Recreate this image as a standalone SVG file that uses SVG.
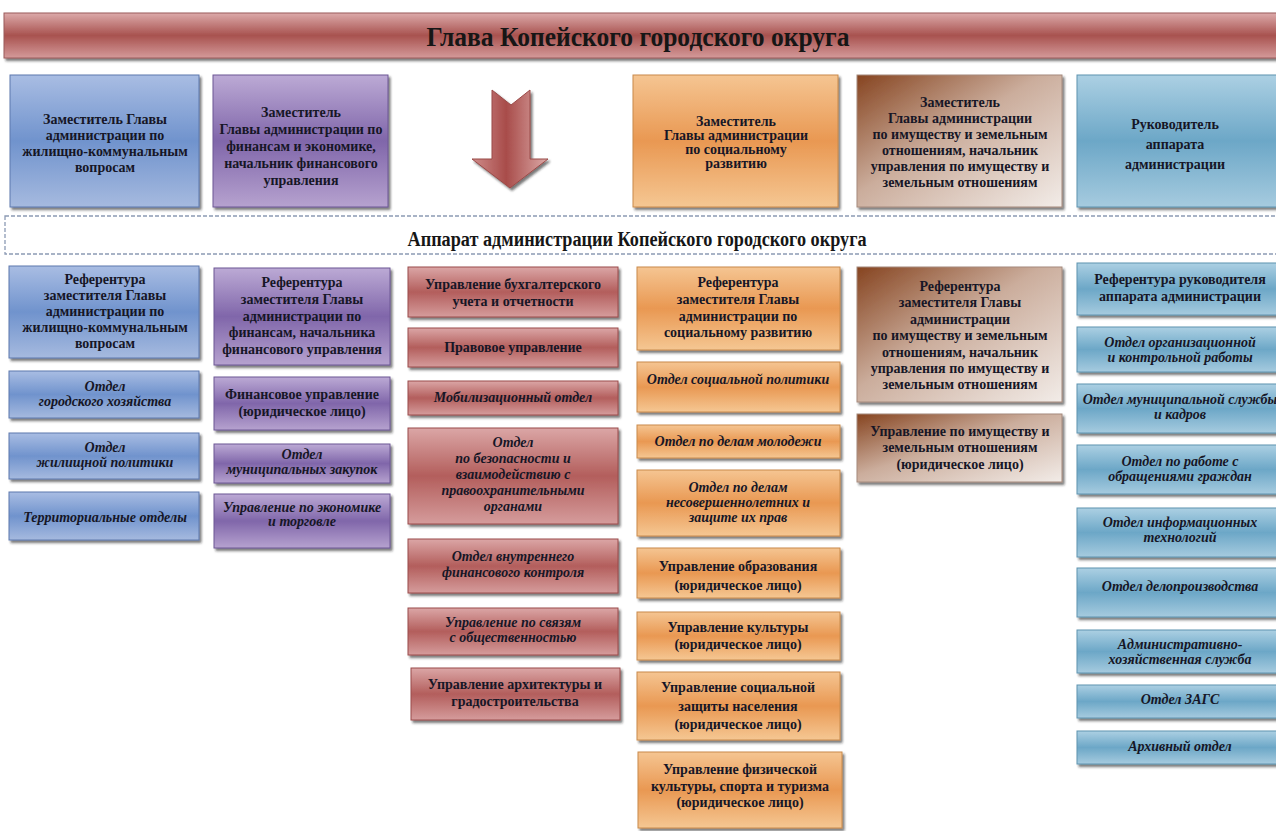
<svg xmlns="http://www.w3.org/2000/svg" width="1276" height="831" viewBox="0 0 1276 831">
  <defs>
    <style>
      .t { font-family: "Liberation Serif", "Times New Roman", serif; font-weight: bold; font-size: 14px; fill: #161626; text-anchor: middle; }
      .i { font-style: italic; }
      .box { filter: url(#shadow); stroke-width: 1; }
      .blue { fill: url(#gBlue); stroke: #5d79ad; }
      .purple { fill: url(#gPurple); stroke: #6d5794; }
      .red { fill: url(#gRed); stroke: #9a4b4a; }
      .orange { fill: url(#gOrange); stroke: #c98a4a; }
      .brown { fill: url(#gBrown); stroke: #a58a7c; }
      .lblue { fill: url(#gLBlue); stroke: #5e93b0; }
      .title { font-family: "Liberation Serif", "Times New Roman", serif; font-weight: bold; fill: #161616; text-anchor: middle; }
    </style>
    <filter id="shadow" x="-5%" y="-5%" width="115%" height="125%">
      <feDropShadow dx="2" dy="2.5" stdDeviation="0.8" flood-color="#1a1a1a" flood-opacity="0.6"/>
    </filter>
    <linearGradient id="gBanner" x1="0" y1="0" x2="0" y2="1">
      <stop offset="0" stop-color="#dcaaaa"/>
      <stop offset="0.5" stop-color="#a8524f"/>
      <stop offset="1" stop-color="#d49a9a"/>
    </linearGradient>
    <linearGradient id="gBlue" x1="0" y1="0" x2="0" y2="1">
      <stop offset="0" stop-color="#a9bde3"/>
      <stop offset="0.5" stop-color="#7093cd"/>
      <stop offset="1" stop-color="#a6badf"/>
    </linearGradient>
    <linearGradient id="gPurple" x1="0" y1="0" x2="0" y2="1">
      <stop offset="0" stop-color="#bcaad5"/>
      <stop offset="0.5" stop-color="#8066aa"/>
      <stop offset="1" stop-color="#b6a2cf"/>
    </linearGradient>
    <linearGradient id="gRed" x1="0" y1="0" x2="0" y2="1">
      <stop offset="0" stop-color="#dba6a6"/>
      <stop offset="0.5" stop-color="#b35e5c"/>
      <stop offset="1" stop-color="#d59c9c"/>
    </linearGradient>
    <linearGradient id="gOrange" x1="0" y1="0" x2="0" y2="1">
      <stop offset="0" stop-color="#f5c592"/>
      <stop offset="0.5" stop-color="#e99852"/>
      <stop offset="1" stop-color="#f5c793"/>
    </linearGradient>
    <linearGradient id="gBrown" x1="0" y1="0" x2="1" y2="1">
      <stop offset="0" stop-color="#864420"/>
      <stop offset="0.45" stop-color="#cbad9c"/>
      <stop offset="1" stop-color="#f2ece8"/>
    </linearGradient>
    <linearGradient id="gLBlue" x1="0" y1="0" x2="0" y2="1">
      <stop offset="0" stop-color="#acd0e3"/>
      <stop offset="0.5" stop-color="#6ca7c7"/>
      <stop offset="1" stop-color="#a6cbdf"/>
    </linearGradient>
    <linearGradient id="gArrow" x1="0" y1="0" x2="1" y2="0">
      <stop offset="0" stop-color="#cf8c8a"/>
      <stop offset="0.45" stop-color="#a84c4a"/>
      <stop offset="1" stop-color="#dcaaa8"/>
    </linearGradient>
  </defs>

  <rect width="1276" height="831" fill="#ffffff"/>

  <!-- Head of the district -->
  <g id="head">
    <rect x="4" y="13" width="1280" height="45" fill="url(#gBanner)" stroke="#9a5a5a" stroke-width="1" filter="url(#shadow)"/>
    <text class="title" x="638" y="46" font-size="27" textLength="423" lengthAdjust="spacingAndGlyphs">Глава Копейского городского округа</text>
  </g>

  <!-- Deputies -->
  <g id="dep-housing">
    <rect class="box blue" x="10" y="75" width="189" height="132"/>
    <text class="t"><tspan x="105" y="124">Заместитель Главы</tspan><tspan x="105" y="140">администрации по</tspan><tspan x="105" y="156">жилищно-коммунальным</tspan><tspan x="105" y="172">вопросам</tspan></text>
  </g>
  <g id="dep-finance">
    <rect class="box purple" x="213" y="75" width="175" height="132"/>
    <text class="t"><tspan x="301" y="117">Заместитель</tspan><tspan x="301" y="134">Главы администрации по</tspan><tspan x="301" y="151">финансам и экономике,</tspan><tspan x="301" y="168">начальник финансового</tspan><tspan x="301" y="185">управления</tspan></text>
  </g>
  <g id="dep-social">
    <rect class="box orange" x="633" y="75" width="205" height="132"/>
    <text class="t"><tspan x="736" y="126">Заместитель</tspan><tspan x="736" y="140">Главы администрации</tspan><tspan x="736" y="154">по социальному</tspan><tspan x="736" y="168">развитию</tspan></text>
  </g>
  <g id="dep-property">
    <rect class="box brown" x="857" y="75" width="205" height="132"/>
    <text class="t"><tspan x="960" y="107">Заместитель</tspan><tspan x="960" y="123">Главы администрации</tspan><tspan x="960" y="139">по имуществу и земельным</tspan><tspan x="960" y="155">отношениям, начальник</tspan><tspan x="960" y="171">управления по имуществу и</tspan><tspan x="960" y="187">земельным отношениям</tspan></text>
  </g>
  <g id="chief-of-staff">
    <rect class="box lblue" x="1077" y="75" width="206" height="132"/>
    <text class="t"><tspan x="1175" y="129">Руководитель</tspan><tspan x="1175" y="149">аппарата</tspan><tspan x="1175" y="169">администрации</tspan></text>
  </g>

  <!-- Connectors -->
  <g id="connectors">
    <path d="M492 90 L511 105 L530 90 L530 159 L548 159 L510 188 L472 159 L492 159 Z" fill="url(#gArrow)" stroke="#9a4a48" stroke-width="1" filter="url(#shadow)"/>
  </g>

  <!-- Administration staff band -->
  <g id="staff">
    <rect x="5" y="216" width="1290" height="38" fill="none" stroke="#8c9ab4" stroke-width="1.3" stroke-dasharray="4 2"/>
    <text class="title" x="637" y="246" font-size="20" textLength="459" lengthAdjust="spacingAndGlyphs">Аппарат администрации Копейского городского округа</text>
  </g>

  <!-- Column 1: housing -->
  <g id="c1-ref">
    <rect class="box blue" x="9" y="266" width="190" height="92"/>
    <text class="t"><tspan x="105" y="284">Референтура</tspan><tspan x="105" y="300">заместителя Главы</tspan><tspan x="105" y="316">администрации по</tspan><tspan x="105" y="332">жилищно-коммунальным</tspan><tspan x="105" y="348">вопросам</tspan></text>
  </g>
  <g id="c1-city">
    <rect class="box blue" x="9" y="371" width="190" height="47"/>
    <text class="t i"><tspan x="105" y="391">Отдел</tspan><tspan x="105" y="406">городского хозяйства</tspan></text>
  </g>
  <g id="c1-housing">
    <rect class="box blue" x="9" y="433" width="190" height="46"/>
    <text class="t i"><tspan x="105" y="452">Отдел</tspan><tspan x="105" y="467">жилищной политики</tspan></text>
  </g>
  <g id="c1-territory">
    <rect class="box blue" x="9" y="492" width="190" height="48"/>
    <text class="t i" x="105" y="522">Территориальные отделы</text>
  </g>

  <!-- Column 2: finance -->
  <g id="c2-ref">
    <rect class="box purple" x="214" y="268" width="176" height="97"/>
    <text class="t"><tspan x="302" y="287">Референтура</tspan><tspan x="302" y="304">заместителя Главы</tspan><tspan x="302" y="321">администрации по</tspan><tspan x="302" y="337">финансам, начальника</tspan><tspan x="302" y="354">финансового управления</tspan></text>
  </g>
  <g id="c2-fin">
    <rect class="box purple" x="214" y="377" width="176" height="53"/>
    <text class="t"><tspan x="302" y="399">Финансовое управление</tspan><tspan x="302" y="416">(юридическое лицо)</tspan></text>
  </g>
  <g id="c2-proc">
    <rect class="box purple" x="214" y="444" width="176" height="39"/>
    <text class="t i"><tspan x="302" y="459">Отдел</tspan><tspan x="302" y="474">муниципальных закупок</tspan></text>
  </g>
  <g id="c2-econ">
    <rect class="box purple" x="214" y="494" width="176" height="54"/>
    <text class="t i"><tspan x="302" y="512">Управление по экономике</tspan><tspan x="302" y="526">и торговле</tspan></text>
  </g>

  <!-- Column 3: staff departments -->
  <g id="c3-acc">
    <rect class="box red" x="408" y="267" width="210" height="50"/>
    <text class="t"><tspan x="513" y="289">Управление бухгалтерского</tspan><tspan x="513" y="306">учета и отчетности</tspan></text>
  </g>
  <g id="c3-legal">
    <rect class="box red" x="408" y="328" width="210" height="39"/>
    <text class="t" x="513" y="352">Правовое управление</text>
  </g>
  <g id="c3-mob">
    <rect class="box red" x="408" y="381" width="210" height="34"/>
    <text class="t i" x="513" y="402">Мобилизационный отдел</text>
  </g>
  <g id="c3-sec">
    <rect class="box red" x="408" y="428" width="210" height="96"/>
    <text class="t i"><tspan x="513" y="447">Отдел</tspan><tspan x="513" y="463">по безопасности и</tspan><tspan x="513" y="479">взаимодействию с</tspan><tspan x="513" y="495">правоохранительными</tspan><tspan x="513" y="511">органами</tspan></text>
  </g>
  <g id="c3-audit">
    <rect class="box red" x="408" y="539" width="210" height="54"/>
    <text class="t i"><tspan x="513" y="561">Отдел внутреннего</tspan><tspan x="513" y="577">финансового контроля</tspan></text>
  </g>
  <g id="c3-pr">
    <rect class="box red" x="408" y="608" width="210" height="47"/>
    <text class="t i"><tspan x="513" y="627">Управление по связям</tspan><tspan x="513" y="642">с общественностью</tspan></text>
  </g>
  <g id="c3-arch">
    <rect class="box red" x="411" y="668" width="209" height="52"/>
    <text class="t"><tspan x="515" y="689">Управление архитектуры и</tspan><tspan x="515" y="706">градостроительства</tspan></text>
  </g>

  <!-- Column 4: social development -->
  <g id="c4-ref">
    <rect class="box orange" x="637" y="267" width="203" height="83"/>
    <text class="t"><tspan x="738" y="287">Референтура</tspan><tspan x="738" y="304">заместителя Главы</tspan><tspan x="738" y="321">администрации по</tspan><tspan x="738" y="337">социальному развитию</tspan></text>
  </g>
  <g id="c4-policy">
    <rect class="box orange" x="637" y="362" width="203" height="50"/>
    <text class="t i" x="738" y="384">Отдел социальной политики</text>
  </g>
  <g id="c4-youth">
    <rect class="box orange" x="637" y="425" width="203" height="33"/>
    <text class="t i" x="738" y="446">Отдел по делам молодежи</text>
  </g>
  <g id="c4-minors">
    <rect class="box orange" x="637" y="470" width="203" height="66"/>
    <text class="t i"><tspan x="738" y="492">Отдел по делам</tspan><tspan x="738" y="507">несовершеннолетних и</tspan><tspan x="738" y="522">защите их прав</tspan></text>
  </g>
  <g id="c4-edu">
    <rect class="box orange" x="637" y="548" width="203" height="50"/>
    <text class="t"><tspan x="738" y="571">Управление образования</tspan><tspan x="738" y="590">(юридическое лицо)</tspan></text>
  </g>
  <g id="c4-culture">
    <rect class="box orange" x="637" y="612" width="203" height="48"/>
    <text class="t"><tspan x="738" y="632">Управление культуры</tspan><tspan x="738" y="649">(юридическое лицо)</tspan></text>
  </g>
  <g id="c4-welfare">
    <rect class="box orange" x="637" y="672" width="203" height="68"/>
    <text class="t"><tspan x="738" y="692">Управление социальной</tspan><tspan x="738" y="711">защиты населения</tspan><tspan x="738" y="729">(юридическое лицо)</tspan></text>
  </g>
  <g id="c4-sport">
    <rect class="box orange" x="638" y="752" width="204" height="76"/>
    <text class="t"><tspan x="740" y="774">Управление физической</tspan><tspan x="740" y="791">культуры, спорта и туризма</tspan><tspan x="740" y="807">(юридическое лицо)</tspan></text>
  </g>

  <!-- Column 5: property -->
  <g id="c5-ref">
    <rect class="box brown" x="857" y="267" width="205" height="135"/>
    <text class="t"><tspan x="960" y="291">Референтура</tspan><tspan x="960" y="307">заместителя Главы</tspan><tspan x="960" y="324">администрации</tspan><tspan x="960" y="340">по имуществу и земельным</tspan><tspan x="960" y="357">отношениям, начальник</tspan><tspan x="960" y="373">управления по имуществу и</tspan><tspan x="960" y="389">земельным отношениям</tspan></text>
  </g>
  <g id="c5-prop">
    <rect class="box brown" x="857" y="414" width="205" height="68"/>
    <text class="t"><tspan x="960" y="436">Управление по имуществу и</tspan><tspan x="960" y="452">земельным отношениям</tspan><tspan x="960" y="469">(юридическое лицо)</tspan></text>
  </g>

  <!-- Column 6: chief of staff -->
  <g id="c6-ref">
    <rect class="box lblue" x="1077" y="263" width="206" height="52"/>
    <text class="t"><tspan x="1180" y="284">Референтура руководителя</tspan><tspan x="1180" y="301">аппарата администрации</tspan></text>
  </g>
  <g id="c6-org">
    <rect class="box lblue" x="1077" y="327" width="206" height="45"/>
    <text class="t i"><tspan x="1180" y="347">Отдел организационной</tspan><tspan x="1180" y="362">и контрольной работы</tspan></text>
  </g>
  <g id="c6-hr">
    <rect class="box lblue" x="1077" y="384" width="206" height="49"/>
    <text class="t i"><tspan x="1180" y="404">Отдел муниципальной службы</tspan><tspan x="1180" y="419">и кадров</tspan></text>
  </g>
  <g id="c6-appeals">
    <rect class="box lblue" x="1077" y="445" width="206" height="49"/>
    <text class="t i"><tspan x="1180" y="466">Отдел по работе с</tspan><tspan x="1180" y="481">обращениями граждан</tspan></text>
  </g>
  <g id="c6-it">
    <rect class="box lblue" x="1077" y="508" width="206" height="49"/>
    <text class="t i"><tspan x="1180" y="527">Отдел информационных</tspan><tspan x="1180" y="542">технологий</tspan></text>
  </g>
  <g id="c6-records">
    <rect class="box lblue" x="1077" y="568" width="206" height="49"/>
    <text class="t i" x="1180" y="591">Отдел делопроизводства</text>
  </g>
  <g id="c6-admin">
    <rect class="box lblue" x="1077" y="630" width="206" height="43"/>
    <text class="t i"><tspan x="1180" y="649">Административно-</tspan><tspan x="1180" y="664">хозяйственная служба</tspan></text>
  </g>
  <g id="c6-zags">
    <rect class="box lblue" x="1077" y="685" width="206" height="33"/>
    <text class="t i" x="1180" y="704">Отдел ЗАГС</text>
  </g>
  <g id="c6-archive">
    <rect class="box lblue" x="1077" y="731" width="206" height="33"/>
    <text class="t i" x="1180" y="751">Архивный отдел</text>
  </g>
</svg>
